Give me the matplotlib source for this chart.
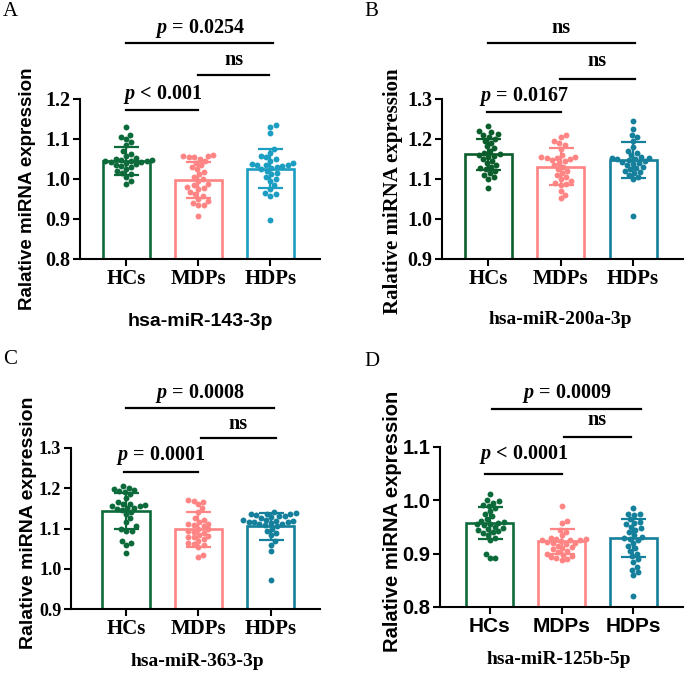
import numpy as np
import matplotlib.pyplot as plt

plt.rcParams['mathtext.fontset'] = 'custom'
plt.rcParams['mathtext.it'] = 'Liberation Serif:italic:bold'
plt.rcParams['mathtext.rm'] = 'Liberation Serif:bold'
plt.rcParams['mathtext.bf'] = 'Liberation Serif:bold'

groups = ['HCs', 'MDPs', 'HDPs']

# panel A: hsa-miR-143-3p
a_hcs = [1.130, 1.110, 1.105, 1.100, 1.092, 1.085, 1.070, 1.062, 1.058, 1.052,
         1.050, 1.048, 1.047, 1.046, 1.045, 1.044, 1.043, 1.042, 1.040, 1.038,
         1.035, 1.032, 1.030, 1.025, 1.020, 1.015, 1.012, 1.005, 0.995, 0.988]
a_mdps = [1.060, 1.058, 1.057, 1.056, 1.055, 1.050, 1.045, 1.040, 1.035, 1.030,
          1.025, 1.018, 1.012, 1.005, 1.000, 0.995, 0.988, 0.985, 0.980, 0.978,
          0.975, 0.968, 0.962, 0.958, 0.950, 0.945, 0.940, 0.935, 0.935, 0.908]
a_hdps = [1.135, 1.130, 1.115, 1.075, 1.065, 1.058, 1.055, 1.050, 1.045, 1.040,
          1.038, 1.036, 1.035, 1.034, 1.033, 1.030, 1.028, 1.025, 1.020, 1.015,
          1.012, 1.005, 1.000, 0.995, 0.985, 0.975, 0.965, 0.962, 0.958, 0.898]
a_mean = [1.045, 0.997, 1.026]
a_sd = [0.034, 0.045, 0.049]

# panel B: hsa-miR-200a-3p
b_hcs = [1.232, 1.220, 1.218, 1.212, 1.210, 1.205, 1.200, 1.195, 1.190, 1.182,
         1.178, 1.170, 1.165, 1.162, 1.160, 1.158, 1.155, 1.150, 1.145, 1.140,
         1.135, 1.130, 1.128, 1.125, 1.120, 1.115, 1.110, 1.105, 1.100, 1.077]
b_mdps = [1.210, 1.205, 1.195, 1.190, 1.185, 1.175, 1.160, 1.155, 1.154, 1.153,
          1.152, 1.150, 1.148, 1.145, 1.140, 1.135, 1.130, 1.125, 1.120, 1.115,
          1.110, 1.105, 1.100, 1.095, 1.090, 1.088, 1.085, 1.070, 1.060, 1.052]
b_hdps = [1.245, 1.225, 1.210, 1.205, 1.195, 1.180, 1.170, 1.165, 1.160, 1.155,
          1.153, 1.152, 1.150, 1.150, 1.148, 1.145, 1.142, 1.140, 1.138, 1.135,
          1.130, 1.128, 1.125, 1.120, 1.118, 1.115, 1.110, 1.105, 1.100, 1.008]
b_mean = [1.162, 1.131, 1.148]
b_sd = [0.039, 0.046, 0.045]

# panel C: hsa-miR-363-3p
c_hcs = [1.205, 1.200, 1.198, 1.195, 1.192, 1.190, 1.185, 1.175, 1.165, 1.162,
         1.160, 1.158, 1.157, 1.155, 1.152, 1.150, 1.148, 1.145, 1.140, 1.135,
         1.125, 1.115, 1.105, 1.100, 1.095, 1.095, 1.070, 1.065, 1.060, 1.040]
c_mdps = [1.172, 1.168, 1.166, 1.160, 1.150, 1.140, 1.125, 1.120, 1.115, 1.112,
          1.110, 1.108, 1.105, 1.100, 1.098, 1.095, 1.092, 1.090, 1.085, 1.082,
          1.080, 1.078, 1.075, 1.070, 1.065, 1.062, 1.060, 1.055, 1.035, 1.028]
c_hdps = [1.140, 1.138, 1.137, 1.136, 1.135, 1.134, 1.132, 1.130, 1.128, 1.125,
          1.122, 1.120, 1.119, 1.118, 1.117, 1.116, 1.115, 1.114, 1.112, 1.110,
          1.108, 1.105, 1.100, 1.095, 1.090, 1.085, 1.070, 1.060, 1.045, 0.972]
c_mean = [1.144, 1.098, 1.105]
c_sd = [0.045, 0.043, 0.034]

# panel D: hsa-miR-125b-5p
d_hcs = [1.012, 1.000, 0.998, 0.995, 0.992, 0.990, 0.985, 0.980, 0.975, 0.970,
         0.965, 0.962, 0.960, 0.958, 0.956, 0.955, 0.953, 0.950, 0.948, 0.946,
         0.945, 0.942, 0.940, 0.938, 0.935, 0.930, 0.925, 0.900, 0.892, 0.892]
d_mdps = [0.990, 0.962, 0.958, 0.945, 0.940, 0.935, 0.930, 0.928, 0.927, 0.926,
          0.925, 0.924, 0.922, 0.920, 0.918, 0.915, 0.912, 0.910, 0.908, 0.905,
          0.903, 0.900, 0.898, 0.895, 0.893, 0.892, 0.890, 0.888, 0.920, 0.925]
d_hdps = [0.985, 0.975, 0.975, 0.972, 0.965, 0.960, 0.958, 0.955, 0.950, 0.948,
          0.945, 0.940, 0.935, 0.932, 0.930, 0.928, 0.925, 0.920, 0.915, 0.910,
          0.905, 0.900, 0.895, 0.890, 0.885, 0.875, 0.870, 0.865, 0.860, 0.820]
d_mean = [0.958, 0.923, 0.929]
d_sd = [0.030, 0.023, 0.036]

SERIF = 'Liberation Serif'
SANS = 'Liberation Sans'
W, H = 685, 674

panels = [
    dict(letter='A', letter_xy=(3, 12), data=[a_hcs, a_mdps, a_hdps], mean=a_mean, sd=a_sd,
         box=(80, 320, 99, 259), xlim=(-0.64, 2.69), ylim=(0.8, 1.2), yticks=[0.8, 0.9, 1.0, 1.1, 1.2],
         colors=['#0d6b3b', '#ff8484', '#1c9ec2'],
         title='hsa-miR-143-3p', title_font=SANS, title_xy=(200, 322),
         ylabel_font=SANS, ylabel_size=13.5, ylabel_xy=(28, 189), tick_font=SERIF, tick_size=14.5,
         xtick_font=SERIF,
         brackets=[(0, 1, 1.1725, 1.21, r'$p$ < 0.001'),
                   (1, 1.98, 1.26, 1.297, 'ns'),
                   (0, 2.04, 1.341, 1.375, r'$p$ = 0.0254')]),
    dict(letter='B', letter_xy=(364, 11), data=[b_hcs, b_mdps, b_hdps], mean=b_mean, sd=b_sd,
         box=(442, 683, 99, 259), xlim=(-0.64, 2.69), ylim=(0.9, 1.3), yticks=[0.9, 1.0, 1.1, 1.2, 1.3],
         colors=['#0b5e2c', '#ff8484', '#14809c'],
         title='hsa-miR-200a-3p', title_font=SERIF, title_xy=(560, 320),
         ylabel_font=SERIF, ylabel_size=15, ylabel_xy=(393, 191), tick_font=SERIF, tick_size=14.5,
         xtick_font=SERIF,
         brackets=[(-0.02, 1, 1.268, 1.306, r'$p$ = 0.0167'),
                   (0.99, 2.02, 1.35, 1.396, 'ns'),
                   (0, 2.02, 1.441, 1.477, 'ns')]),
    dict(letter='C', letter_xy=(3, 360), data=[c_hcs, c_mdps, c_hdps], mean=c_mean, sd=c_sd,
         box=(71, 320, 448, 609), xlim=(-0.76, 2.68), ylim=(0.9, 1.3), yticks=[0.9, 1.0, 1.1, 1.2, 1.3],
         colors=['#0d6b3b', '#ff8484', '#14809c'],
         title='hsa-miR-363-3p', title_font=SERIF, title_xy=(197, 662),
         ylabel_font=SANS, ylabel_size=14, ylabel_xy=(29, 523), tick_font=SERIF, tick_size=13,
         xtick_font=SERIF,
         brackets=[(-0.03, 1, 1.24, 1.281, r'$p$ = 0.0001'),
                   (1.03, 2.07, 1.325, 1.36, 'ns'),
                   (0, 2.04, 1.40, 1.435, r'$p$ = 0.0008')]),
    dict(letter='D', letter_xy=(364, 361), data=[d_hcs, d_mdps, d_hdps], mean=d_mean, sd=d_sd,
         box=(440, 683, 447, 607), xlim=(-0.69, 2.69), ylim=(0.8, 1.1), yticks=[0.8, 0.9, 1.0, 1.1],
         colors=['#0d6b3b', '#ff8484', '#14809c'],
         title='hsa-miR-125b-5p', title_font=SERIF, title_xy=(559, 660),
         ylabel_font=SANS, ylabel_size=14.5, ylabel_xy=(393, 521), tick_font=SANS, tick_size=14.5,
         xtick_font=SANS,
         brackets=[(-0.06, 1, 1.05, 1.086, r'$p$ < 0.0001'),
                   (1.03, 1.96, 1.119, 1.150, 'ns'),
                   (0.04, 2.1, 1.172, 1.201, r'$p$ = 0.0009')]),
]


def swarm(ypx, d):
    # simple beeswarm: place each point as close to the centre as possible
    order = np.argsort(ypx)
    xs = np.zeros(len(ypx))
    placed = []
    for i in order:
        y = ypx[i]
        cands = [0.0]
        for px, py in placed:
            dy = y - py
            if abs(dy) < d:
                dx = np.sqrt(d * d - dy * dy)
                cands += [px + dx, px - dx]
        for c in sorted(cands, key=abs):
            if all((c - px) ** 2 + (y - py) ** 2 >= d * d - 1e-6 for px, py in placed):
                xs[i] = c
                break
        placed.append((xs[i], y))
    return xs


fig = plt.figure(figsize=(W / 100, H / 100), dpi=100)

for p in panels:
    l, r, t, b = p['box']
    ax = fig.add_axes([l / W, 1 - b / H, (r - l) / W, (b - t) / H])
    ax.set_xlim(*p['xlim'])
    ax.set_ylim(*p['ylim'])
    x = np.arange(len(groups))
    ppx = (r - l) / (p['xlim'][1] - p['xlim'][0])
    ppy = (b - t) / (p['ylim'][1] - p['ylim'][0])

    ax.bar(x, p['mean'], width=0.65, facecolor='white', edgecolor=p['colors'],
           linewidth=1.9, zorder=1)
    for i, vals in enumerate(p['data']):
        vals = np.array(vals)
        offs = swarm(vals * ppy, 5.6) / ppx
        ax.scatter(x[i] + offs, vals, s=18, color=p['colors'][i], linewidths=0,
                   zorder=2, clip_on=False)
        ax.errorbar(x[i], p['mean'][i], yerr=p['sd'][i], color=p['colors'][i],
                    capsize=9, capthick=1.6, elinewidth=1.6, zorder=3)

    for x1, x2, yl, yt, txt in p['brackets']:
        ax.plot([x1, x2], [yl, yl], color='black', linewidth=1.6, clip_on=False)
        ax.text((x1 + x2) / 2, yt, txt, ha='center', va='center', fontsize=14.5,
                family=SERIF, weight='bold', clip_on=False)

    ax.spines['top'].set_visible(False)
    ax.spines['right'].set_visible(False)
    ax.spines['left'].set_linewidth(1.5)
    ax.spines['bottom'].set_linewidth(1.5)
    ax.set_yticks(p['yticks'])
    ax.set_yticklabels([f'{v:.1f}' for v in p['yticks']], family=p['tick_font'],
                       weight='bold', fontsize=p['tick_size'])
    ax.set_xticks(x)
    ax.set_xticklabels(groups, family=p['xtick_font'], weight='bold', fontsize=15)
    ax.tick_params(width=1.5, length=5, pad=2)

    fig.text(p['ylabel_xy'][0] / W, 1 - p['ylabel_xy'][1] / H, 'Ralative miRNA expression',
             rotation=90, ha='center', va='center', family=p['ylabel_font'], weight='bold',
             fontsize=p['ylabel_size'])
    fig.text(p['title_xy'][0] / W, 1 - p['title_xy'][1] / H, p['title'], ha='center',
             va='center', family=p['title_font'], weight='bold', fontsize=14)
    fig.text(p['letter_xy'][0] / W, 1 - p['letter_xy'][1] / H, p['letter'],
             ha='left', va='center', family=SERIF, fontsize=15)

fig.savefig('out.png', dpi=100)
